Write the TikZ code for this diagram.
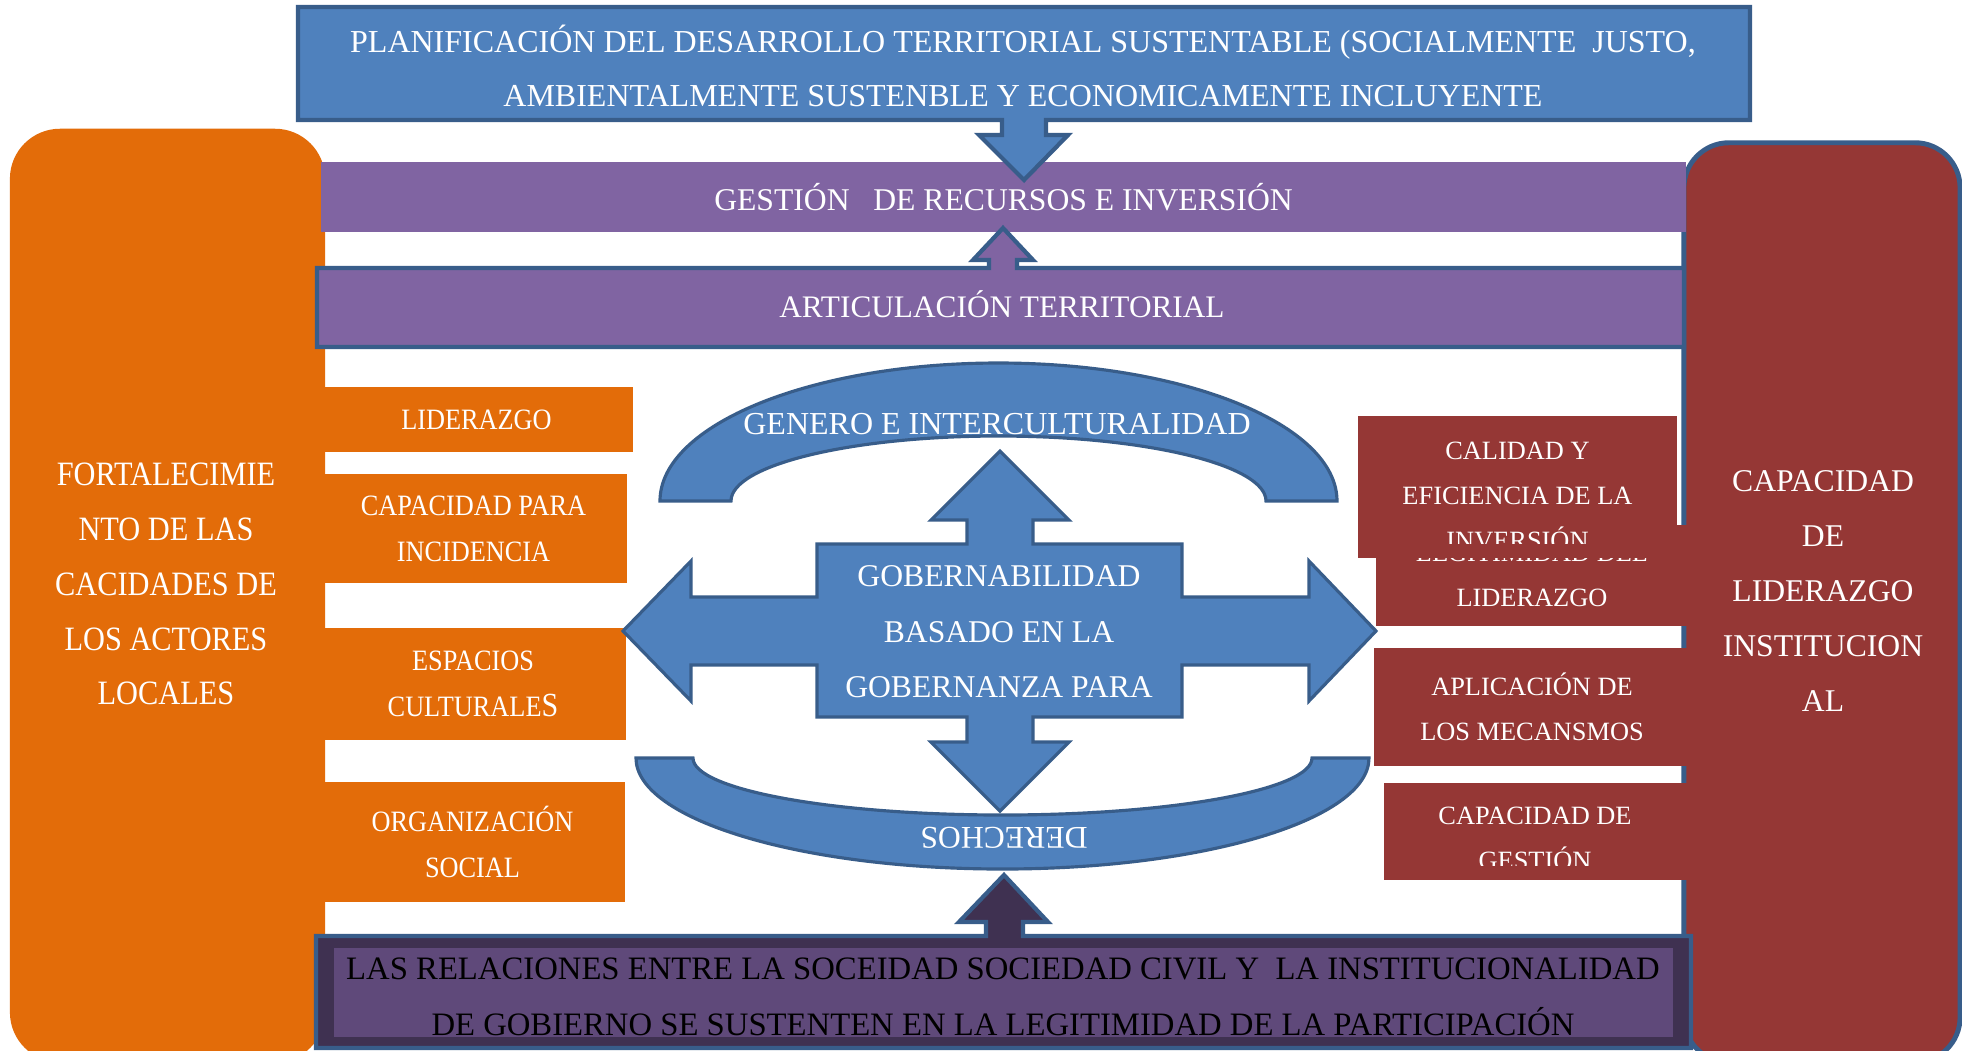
\documentclass[tikz,border=0pt]{standalone}
\usepackage{fontspec}
\setmainfont{Liberation Serif}
\newfontfamily\narrowfont{Liberation Serif}[FakeStretch=0.89]
\definecolor{planblue}{HTML}{4F81BD}
\definecolor{edgeblue}{HTML}{385D8A}
\definecolor{gestpurple}{HTML}{8064A2}
\definecolor{actorange}{HTML}{E36C09}
\definecolor{instred}{HTML}{953735}
\definecolor{relpurple}{HTML}{3F3151}
\definecolor{relinner}{HTML}{5F497A}
\begin{document}
\begin{tikzpicture}[x=0.01cm, y=-0.01cm,
	box/.style={rectangle, inner sep=0pt, outer sep=0pt, text=white, align=center},
	txt/.style={inner sep=0pt, text=white, align=center},
	callout/.style={draw=edgeblue, line width=1.2pt, line join=miter},
	band/.style={draw=edgeblue, line width=0.9pt, fill=planblue, line join=miter},
	orbox/.style={box, fill=actorange, font=\narrowfont\fontsize{8.4}{13.1}\selectfont},
	rdbox/.style={box, fill=instred, font=\fontsize{7.5}{12.8}\selectfont},
	bigtxt/.style={txt, font=\fontsize{9}{15.6}\selectfont}]
	\path[use as bounding box, fill=white] (0,0) rectangle (1962,1050);
	% side columns
	\node[box, fill=actorange, rounded corners=0.5cm, minimum width=3.15cm, minimum height=9.33cm] (actors) at (167.5,595.5) {};
	\node[box, fill=instred, draw=edgeblue, line width=1.4pt, rounded corners=0.45cm, minimum width=2.76cm, minimum height=9.19cm] (inst) at (1822,602.5) {};
	\node[bigtxt, font=\narrowfont\fontsize{9.7}{15.6}\selectfont] (actorstxt) at (166,584) {FORTALECIMIE\\NTO DE LAS\\CACIDADES DE\\LOS ACTORES\\LOCALES};
	\node[bigtxt] (insttxt) at (1823,591) {CAPACIDAD\\DE\\LIDERAZGO\\INSTITUCION\\AL};
	\node[orbox, minimum width=3.13cm, minimum height=0.65cm] (lid) at (476.5,419.5) {LIDERAZGO};
	\node[orbox, minimum width=3.07cm, minimum height=1.09cm] (inc) at (473.5,528.5) {CAPACIDAD PARA\\INCIDENCIA};
	\node[orbox, minimum width=3.06cm, minimum height=1.12cm] (esp) at (473,684) {ESPACIOS\\CULTURALE{\fontsize{9.6}{13.1}\selectfont S}};
	\node[orbox, minimum width=3.05cm, minimum height=1.2cm] (org) at (472.5,842) {ORGANIZACIÓN\\SOCIAL};
	% top bands
	\node[box, fill=gestpurple, minimum width=13.65cm, minimum height=0.7cm, font=\fontsize{9}{11}\selectfont] (gest) at (1003.5,197) {GESTIÓN\ \ \ DE RECURSOS E INVERSIÓN};
	\draw[callout, fill=planblue] (298,7) -- (1750,7) -- (1750,120) -- (1046,120) -- (1046,135) -- (1068,135) -- (1024,180) -- (979,135) -- (1002,135) -- (1002,120) -- (298,120) -- cycle;
	\node[txt, font=\fontsize{9.1}{15.5}\selectfont] (plan) at (1023,66) {PLANIFICACIÓN DEL DESARROLLO TERRITORIAL SUSTENTABLE (SOCIALMENTE\ \ JUSTO,\\AMBIENTALMENTE SUSTENBLE Y ECONOMICAMENTE INCLUYENTE};
	\draw[callout, fill=gestpurple] (317,268) -- (989,268) -- (989,260) -- (973,260) -- (1003,228) -- (1033,260) -- (1017,260) -- (1017,268) -- (1684,268) -- (1684,347) -- (317,347) -- cycle;
	\node[txt, font=\fontsize{8.9}{11}\selectfont] (art) at (1002,304) {ARTICULACIÓN TERRITORIAL};
	% red boxes
	\node[rdbox, minimum width=3.12cm, minimum height=1.01cm] (leg) at (1532,575.5) {LEGITIMIDAD DEL\\LIDERAZGO};
	\node[rdbox, minimum width=3.19cm, minimum height=1.42cm] (cal) at (1517.5,487) {};
	\begin{scope}
		\clip (1358,416) rectangle (1677,543);
		\node[txt, font=\fontsize{7.5}{12.8}\selectfont] (caltxt) at (1517.5,496) {CALIDAD Y\\EFICIENCIA DE LA\\INVERSIÓN};
	\end{scope}
	\node[rdbox, minimum width=3.16cm, minimum height=1.18cm] (apl) at (1532,707) {APLICACIÓN DE\\LOS MECANSMOS};
	\node[rdbox, minimum width=3.06cm, minimum height=0.97cm] (ges) at (1537,831.5) {};
	\begin{scope}
		\clip (1384,783) rectangle (1690,865);
		\node[txt, font=\fontsize{7.5}{12.8}\selectfont] (gestxt) at (1535,838.5) {CAPACIDAD DE\\GESTIÓN};
	\end{scope}
	% centre
	\draw[band] (660,501) arc[start angle=180, end angle=360, x radius=338.5, y radius=138] -- (1266,501) arc[start angle=360, end angle=180, x radius=267.5, y radius=65] -- cycle;
	\node[txt, font=\fontsize{9.1}{11}\selectfont] (gen) at (997,424) {GENERO E INTERCULTURALIDAD};
	\draw[band] (636,758) arc[start angle=180, end angle=0, x radius=366.5, y radius=111] -- (1312,758) arc[start angle=0, end angle=180, x radius=309.5, y radius=57] -- cycle;
	\node[txt, rotate=180, font=\fontsize{9}{11}\selectfont] (der) at (1004,838) {DERECHOS};
	\draw[band] (1000,451) -- (1069,520) -- (1033,520) -- (1033,544) -- (1182,544) -- (1182,597) -- (1309,597) -- (1309,561) -- (1376,631) -- (1309,701) -- (1309,665) -- (1182,665) -- (1182,717) -- (1033,717) -- (1033,742) -- (1069,742) -- (1000,811) -- (931,742) -- (967,742) -- (967,717) -- (817,717) -- (817,665) -- (691,665) -- (691,701) -- (623,631) -- (691,561) -- (691,597) -- (817,597) -- (817,544) -- (967,544) -- (967,520) -- (931,520) -- cycle;
	\node[txt, font=\fontsize{9}{15.8}\selectfont] (gob) at (999,632) {GOBERNABILIDAD\\BASADO EN LA\\GOBERNANZA PARA};
	% bottom band
	\draw[callout, fill=relpurple] (316,936) -- (986,936) -- (986,922) -- (959,922) -- (1004,875) -- (1048,922) -- (1023,922) -- (1023,936) -- (1691,936) -- (1691,1048) -- (316,1048) -- cycle;
	\node[box, fill=relinner, minimum width=13.39cm, minimum height=0.89cm] (rel) at (1003.5,992.5) {};
	\node[txt, text=black, font=\fontsize{9.3}{15.8}\selectfont] (reltxt) at (1003,997) {LAS RELACIONES ENTRE LA SOCEIDAD SOCIEDAD CIVIL Y\ \ LA INSTITUCIONALIDAD\\DE GOBIERNO SE SUSTENTEN EN LA LEGITIMIDAD DE LA PARTICIPACIÓN};
\end{tikzpicture}
\end{document}
